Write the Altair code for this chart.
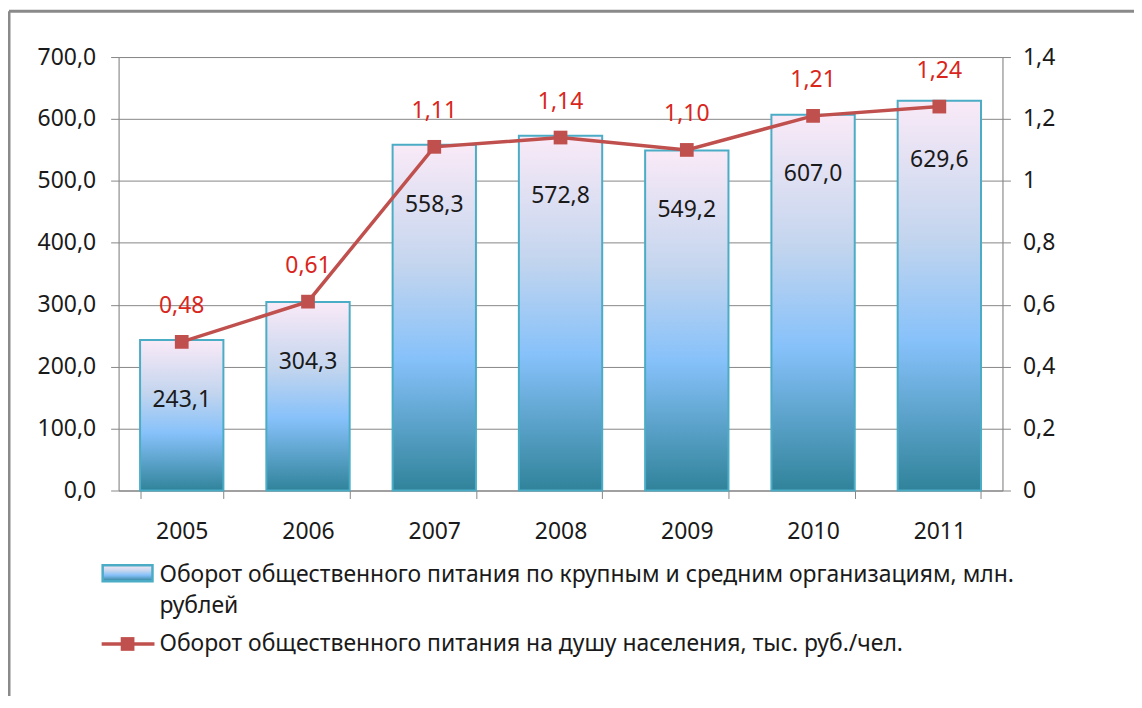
import altair as alt
import pandas as pd

years = ["2005", "2006", "2007", "2008", "2009", "2010", "2011"]
turnover = [243.1, 304.3, 558.3, 572.8, 549.2, 607.0, 629.6]
per_capita = [0.48, 0.61, 1.11, 1.14, 1.10, 1.21, 1.24]
left_ticks = [0, 100, 200, 300, 400, 500, 600, 700]
right_ticks = [0, 0.2, 0.4, 0.6, 0.8, 1.0, 1.2, 1.4]
legend_bar_line1 = "Оборот общественного питания по крупным и средним организациям, млн."
legend_bar_line2 = "рублей"
legend_line = "Оборот общественного питания на душу населения, тыс. руб./чел."

df = pd.DataFrame({"year": years, "v1": turnover, "v2": per_capita})

FONT = "Noto Sans"
FS = 23
GRID = "#878787"
RED = "#C0504D"
LABEL_RED = "#D9261C"
STROKE = "#4BACC6"

W, H = 887, 435

grad = alt.Gradient(
    gradient="linear", x1=0, x2=0, y1=0, y2=1,
    stops=[
        alt.GradientStop(offset=0.0, color="#FAEAF7"),
        alt.GradientStop(offset=0.35, color="#C3D5EE"),
        alt.GradientStop(offset=0.62, color="#86C1FA"),
        alt.GradientStop(offset=1.0, color="#30839A"),
    ],
)

x_enc = alt.X(
    "year:N", sort=years, title=None,
    scale=alt.Scale(paddingInner=0.34, paddingOuter=0.17),
    axis=alt.Axis(labelAngle=0, tickBand="extent", tickSize=8, tickColor=GRID,
                  domainColor=GRID, labelFont=FONT, labelFontSize=FS,
                  labelColor="#1a1a1a", labelPadding=22, grid=False),
)

base = alt.Chart(df).encode(x=x_enc)

y1 = alt.Y("v1:Q", title=None,
           scale=alt.Scale(domain=[0, 700], nice=False),
           axis=alt.Axis(values=left_ticks, orient="left",
                         labelExpr="replace(format(datum.value, '.1f'), '.', ',')",
                         grid=True, gridColor=GRID, gridWidth=1,
                         tickSize=8, tickColor=GRID, domainColor=GRID,
                         labelFont=FONT, labelFontSize=FS, labelColor="#1a1a1a",
                         labelPadding=15))

bars = base.mark_bar(color=grad, stroke=STROKE, strokeWidth=2).encode(y=y1)
bar_text = base.transform_calculate(
    lab="replace(format(datum.v1, '.1f'), '.', ',')"
).mark_text(font=FONT, fontSize=FS, color="#1a1a1a", baseline="middle", dy=60).encode(
    y=alt.Y("v1:Q"), text="lab:N")

left = alt.layer(bars, bar_text)

y2 = alt.Y("v2:Q", title=None,
           scale=alt.Scale(domain=[0, 1.4], nice=False),
           axis=alt.Axis(values=right_ticks, orient="right",
                         labelExpr="replace(format(datum.value, '.1~f'), '.', ',')",
                         grid=False, tickSize=8, tickColor=GRID, domainColor=GRID,
                         labelFont=FONT, labelFontSize=FS, labelColor="#1a1a1a",
                         labelPadding=12))

line = base.mark_line(color=RED, strokeWidth=3.5).encode(y=y2)
pts = base.mark_point(shape="square", filled=True, color=RED, size=190, opacity=1).encode(
    y=alt.Y("v2:Q"))
line_text = base.transform_calculate(
    lab="replace(format(datum.v2, '.2f'), '.', ',')"
).mark_text(font=FONT, fontSize=FS, color=LABEL_RED, baseline="middle", dy=-36).encode(
    y=alt.Y("v2:Q"), text="lab:N")

right = alt.layer(line, pts, line_text)

one = alt.Data(values=[{"k": 1}])

leg_rect = alt.Chart(one).mark_rect(color=grad, stroke=STROKE, strokeWidth=2.5).encode(
    x=alt.value(-16), x2=alt.value(34), y=alt.value(510), y2=alt.value(526))
leg_t1 = alt.Chart(one).mark_text(font=FONT, fontSize=FS, color="#1a1a1a", align="left",
                                  baseline="middle", text=legend_bar_line1).encode(
    x=alt.value(41), y=alt.value(520))
leg_t2 = alt.Chart(one).mark_text(font=FONT, fontSize=FS, color="#1a1a1a", align="left",
                                  baseline="middle", text=legend_bar_line2).encode(
    x=alt.value(41), y=alt.value(551))
leg_line = alt.Chart(one).mark_rule(color=RED, strokeWidth=3.5).encode(
    x=alt.value(-17), x2=alt.value(36), y=alt.value(589))
leg_pt = alt.Chart(one).mark_point(shape="square", filled=True, color=RED, size=190, opacity=1).encode(
    x=alt.value(9), y=alt.value(589))
leg_t3 = alt.Chart(one).mark_text(font=FONT, fontSize=FS, color="#1a1a1a", align="left",
                                  baseline="middle", text=legend_line).encode(
    x=alt.value(41), y=alt.value(589))

frame_v = alt.Chart(one).mark_rule(color="#8A8A8A", strokeWidth=3).encode(
    x=alt.value(-110), y=alt.value(-46), y2=alt.value(700))
frame_h = alt.Chart(one).mark_rule(color="#8A8A8A", strokeWidth=3).encode(
    x=alt.value(-110), x2=alt.value(1100), y=alt.value(-46))

chart = alt.layer(
    left, right, leg_rect, leg_t1, leg_t2, leg_line, leg_pt, leg_t3, frame_v, frame_h
).resolve_scale(y="independent").properties(
    width=W, height=H,
    autosize=alt.AutoSizeParams(type="none"),
    padding={"left": 111, "top": 48, "right": 132, "bottom": 205},
).configure_view(stroke=None).configure(background="white")

chart.save("out.html", embed_options={"renderer": "svg", "actions": False})
